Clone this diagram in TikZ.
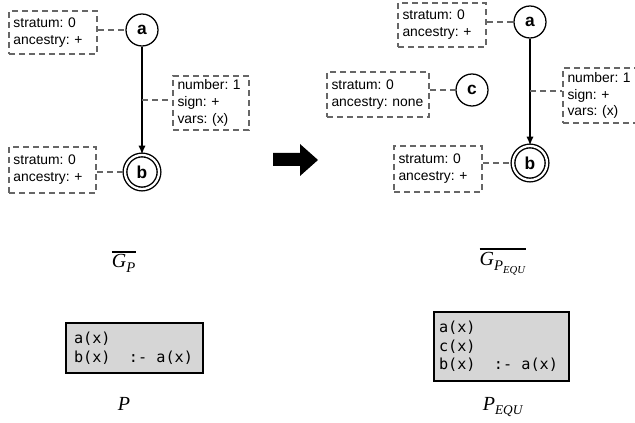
\documentclass[tikz,border=0pt]{standalone}
\usepackage{fontspec}
\setmainfont{Liberation Sans}
\newfontfamily\seriffam{Liberation Serif}
\newfontfamily\codefam{DejaVu Sans Mono}
\usetikzlibrary{arrows.meta,calc}
\newdimen\px \px=0.75pt
\newcommand\lblit[2]{\mbox{\fontsize{#1}{#1}\selectfont\seriffam\itshape #2}}
\newcommand\ovbar[1]{\vbox{\hrule height 1.5pt\kern 1.2pt\hbox{#1}}}
\newcommand\msp{\hphantom{x}}
\definecolor{dgray}{HTML}{666666}
\definecolor{pfill}{HTML}{D6D6D6}
\begin{document}
\begin{tikzpicture}[x=0.75pt,y=-0.75pt,
  attr/.style={draw=dgray, line width=1.5pt, dash pattern=on 4.5pt off 3pt, rectangle, align=left,
    inner xsep=4.5\px, inner ysep=0pt, font=\fontsize{10.4}{12.6}\selectfont\frenchspacing},
  conn/.style={draw=dgray, line width=1.5pt, dash pattern=on 4.5pt off 3pt},
  vert/.style={circle, draw, line width=0.95pt, minimum size=32\px, inner sep=0pt,
    font=\fontsize{13}{13}\selectfont\bfseries},
  acc/.style={vert, double, line width=1.05pt, double distance=1.7pt, minimum size=34\px},
  edge/.style={line width=1.1pt, -{Latex[length=6.5pt,width=5.5pt]}},
  prog/.style={rectangle, draw, fill=pfill, line width=0.9pt, align=left, inner ysep=0pt,
    font=\fontsize{11.4}{13.9}\selectfont\codefam},
  lbl/.style={inner sep=0pt}]
\useasboundingbox (0,0) rectangle (635,423);
\clip (0,0) rectangle (635,423);

% ---- left graph ----
\node[vert] (a1) at (142,30) {a};
\node[acc] (b1) at (142,172) {b};
\node[attr, text width=79\px, minimum height=43\px] (A1) at (53,32.5) {stratum: 0\\ancestry: +};
\node[attr, text width=78\px, minimum height=46\px] (B1) at (52.5,170) {stratum: 0\\ancestry: +};
\node[attr, text width=67\px, minimum height=54\px] (E1) at (211,103) {number: 1\\sign: +\\vars: (x)};
\draw[edge] (a1) -- (b1);
\coordinate (m1) at ($(a1)!0.49!(b1)$);
\draw[conn] (A1.east |- a1) -- (a1.west);
\draw[conn] (B1.east |- b1) -- (b1.west);
\draw[conn] (m1) -- (E1.west |- m1);

% ---- transformation arrow ----
\fill (273,153) -- (300,153) -- (300,144) -- (318,160) -- (300,176) -- (300,166) -- (273,166) -- cycle;

% ---- right graph ----
\node[vert] (a2) at (530,22) {a};
\node[vert] (c2) at (472,90) {c};
\node[acc] (b2) at (530,163) {b};
\node[attr, text width=79\px, minimum height=44\px] (A2) at (442,25) {stratum: 0\\ancestry: +};
\node[attr, text width=93\px, minimum height=45\px] (C2) at (378,94.5) {stratum: 0\\ancestry: none};
\node[attr, text width=79\px, minimum height=46\px] (B2) at (438,169) {stratum: 0\\ancestry: +};
\node[attr, text width=67\px, minimum height=55\px] (E2) at (601,95.5) {number: 1\\sign: +\\vars: (x)};
\draw[edge] (a2) -- (b2);
\coordinate (m2) at ($(a2)!0.49!(b2)$);
\draw[conn] (A2.east |- a2) -- (a2.west);
\draw[conn] (C2.east |- c2) -- (c2.west);
\draw[conn] (B2.east |- b2) -- (b2.west);
\draw[conn] (m2) -- (E2.west |- m2);

% ---- labels ----
\node[lbl] (gp) at (124,262) {\ovbar{$\lblit{15}{G}_{\lblit{11}{P}}$}};
\node[lbl] (gpe) at (503,262) {\ovbar{$\lblit{15}{G}_{\lblit{11}{P}_{\lblit{8}{EQU}}}$}};

% ---- programs ----
\node[prog, inner xsep=8\px, text width=121\px, minimum height=50\px] (p1) at (134.5,348) {a(x)\\b(x)\msp\msp:-\msp a(x)};
\node[prog, inner xsep=5\px, text width=125\px, minimum height=69\px] (p2) at (501.5,346.5) {a(x)\\c(x)\\b(x)\msp\msp:-\msp a(x)};

\node[lbl] (pl) at (124,404) {$\lblit{15}{P}$};
\node[lbl] (pel) at (503,407) {$\lblit{15}{P}_{\lblit{10}{EQU}}$};
\end{tikzpicture}
\end{document}
